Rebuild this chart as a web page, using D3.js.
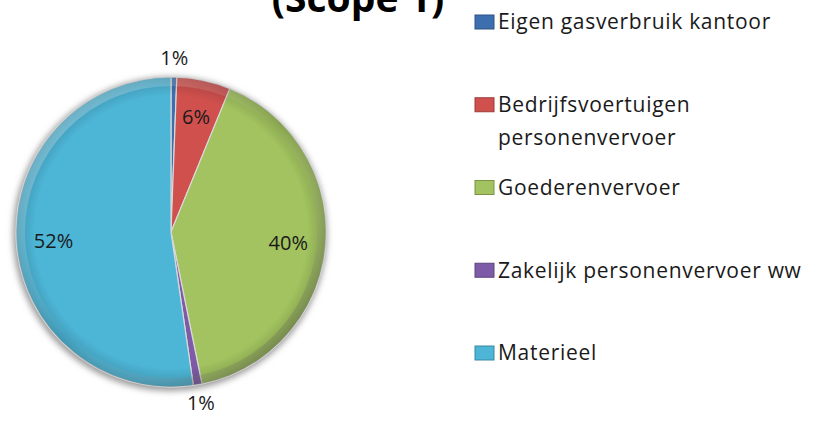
<!DOCTYPE html>
<html>
<head>
<meta charset="utf-8">
<script src="https://cdn.jsdelivr.net/npm/d3@7"></script>
<style>
  body { margin: 0; background: #fff; }
  svg { display: block; }
</style>
</head>
<body>
<div id="chart"></div>
<script>
// data
const categories = ['Eigen gasverbruik kantoor', 'Bedrijfsvoertuigen personenvervoer', 'Goederenvervoer', 'Zakelijk personenvervoer ww', 'Materieel'];
const legendLines = [['Eigen gasverbruik kantoor'], ['Bedrijfsvoertuigen', 'personenvervoer'], ['Goederenvervoer'], ['Zakelijk personenvervoer ww'], ['Materieel']];
const shares = [0.6, 5.6, 40.6, 0.9, 52.3];
const shareLabels = ['1%', '6%', '40%', '1%', '52%'];
const colors = ['#3d6fae', '#cf504d', '#a2c35f', '#7d5ba6', '#4db5d6'];
const titleText = '(Scope 1)';

const width = 819, height = 421;
const cx = 171, cy = 232, radius = 155;
const font = '"Open Sans", "DejaVu Sans", sans-serif';

const svg = d3.select('#chart').append('svg')
    .attr('width', width)
    .attr('height', height);

const defs = svg.append('defs');
defs.append('filter').attr('id', 'shadow')
    .attr('x', '-20%').attr('y', '-20%').attr('width', '140%').attr('height', '140%')
  .append('feGaussianBlur').attr('stdDeviation', 3);

const rim = defs.append('linearGradient').attr('id', 'rim')
    .attr('x1', '0%').attr('y1', '0%').attr('x2', '100%').attr('y2', '100%');
rim.append('stop').attr('offset', '0%').attr('stop-color', '#fff').attr('stop-opacity', 0.35);
rim.append('stop').attr('offset', '50%').attr('stop-color', '#fff').attr('stop-opacity', 0);
rim.append('stop').attr('offset', '100%').attr('stop-color', '#000').attr('stop-opacity', 0.35);

const edge = defs.append('radialGradient').attr('id', 'edge')
    .attr('cx', '50%').attr('cy', '50%').attr('r', '50%');
edge.append('stop').attr('offset', '88%').attr('stop-color', '#000').attr('stop-opacity', 0);
edge.append('stop').attr('offset', '100%').attr('stop-color', '#000').attr('stop-opacity', 0.18);

// title (only its lower part is inside the picture)
svg.append('text')
    .attr('x', 358)
    .attr('y', 12)
    .attr('text-anchor', 'middle')
    .style('font-family', font)
    .style('font-weight', 'bold')
    .style('font-size', '39px')
    .text(titleText);

const g = svg.append('g')
    .attr('transform', 'translate(' + cx + ',' + cy + ')');

// soft shadow ring around the pie
g.append('circle')
    .attr('r', radius + 2)
    .attr('cx', -1)
    .attr('cy', 2)
    .attr('fill', '#9a9a9a')
    .attr('filter', 'url(#shadow)');

const pie = d3.pie().sort(null).value((d) => d);
const arcs = pie(shares);
const arc = d3.arc().innerRadius(0).outerRadius(radius);
const labelArc = d3.arc().innerRadius(radius * 0.76).outerRadius(radius * 0.76);
const outerArc = d3.arc().innerRadius(radius + 19).outerRadius(radius + 19);

g.selectAll('path.slice')
    .data(arcs)
    .enter()
    .append('path')
    .attr('class', 'slice')
    .attr('d', arc)
    .attr('fill', (d, i) => colors[i])
    .attr('stroke', '#d9d9d9')
    .attr('stroke-width', 1.2);

// bevel look
g.append('circle')
    .attr('r', radius)
    .attr('fill', 'url(#edge)');
g.append('path')
    .attr('d', d3.arc().innerRadius(radius - 9).outerRadius(radius)({startAngle: 0, endAngle: 2 * Math.PI}))
    .attr('fill', 'url(#rim)');

g.selectAll('text.label')
    .data(arcs)
    .enter()
    .append('text')
    .attr('class', 'label')
    .attr('transform', (d) => {
      const p = d.data < 3 ? outerArc.centroid(d) : labelArc.centroid(d);
      return 'translate(' + p[0] + ',' + p[1] + ')';
    })
    .attr('text-anchor', 'middle')
    .attr('dy', '0.35em')
    .style('font-family', font)
    .style('font-size', '20px')
    .attr('fill', '#1a1a1a')
    .text((d, i) => shareLabels[i]);

// legend
const yLegend = d3.scalePoint().domain(categories).range([22, 353]);
const legend = svg.append('g');
const items = legend.selectAll('g.item')
    .data(categories)
    .enter()
    .append('g')
    .attr('class', 'item')
    .attr('transform', (d) => 'translate(475,' + yLegend(d) + ')');

items.append('rect')
    .attr('x', 0)
    .attr('y', -7)
    .attr('width', 19)
    .attr('height', 14)
    .attr('fill', (d, i) => colors[i])
    .attr('stroke', (d, i) => d3.color(colors[i]).darker(0.8))
    .attr('stroke-width', 1);

items.append('text')
    .attr('x', 23)
    .attr('y', 0)
    .style('font-family', font)
    .style('font-size', '21px')
    .style('letter-spacing', '0.7px')
    .attr('fill', '#1a1a1a')
    .selectAll('tspan')
    .data((d, i) => legendLines[i])
    .enter()
    .append('tspan')
    .attr('x', 23)
    .attr('dy', (d, j) => j === 0 ? '0.35em' : '33px')
    .text((d) => d);
</script>
</body>
</html>
